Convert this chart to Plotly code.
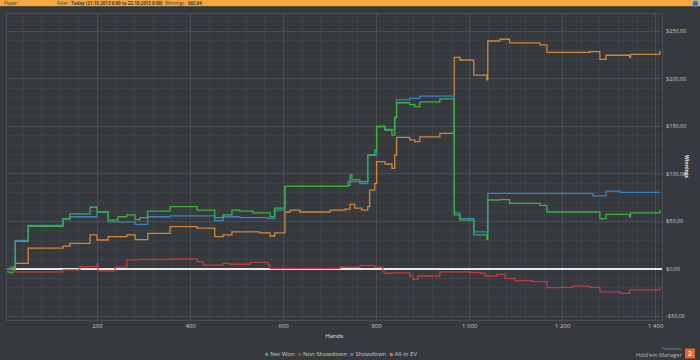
import plotly.graph_objects as go

# ---------------- data ----------------
net_won_x = [5, 12, 18, 23, 51, 126, 141, 184, 199, 223, 244, 263, 281, 291, 308, 356, 414, 452, 470, 489, 506, 534, 571, 581, 603, 738, 743, 747, 764, 781, 796, 800, 818, 833, 839, 843, 871, 882, 893, 936, 966, 967, 979, 1009, 1037, 1039, 1065, 1086, 1151, 1166, 1258, 1280, 1293, 1344, 1346, 1409]
net_won_y = [-3, -4, 2, 29, 45, 52.6, 58, 65, 60, 51.5, 55, 57, 52, 54, 61, 65.6, 62, 54, 57, 62, 61, 59, 55, 64, 87, 88, 99, 94, 92, 120, 125, 150, 146, 141, 159, 175, 173, 171, 176, 179, 178.6, 57, 51.5, 36, 31, 72.6, 73, 69, 67, 60, 60, 53, 57.5, 55, 59, 62]

non_sd_x = [5, 23, 51, 126, 162, 199, 201, 238, 263, 291, 356, 414, 427, 470, 485, 528, 566, 571, 635, 721, 764, 796, 813, 818, 833, 871, 878, 889, 936, 1000, 1022, 1033, 1058, 1076, 1097, 1136, 1166, 1194, 1222, 1258, 1280, 1323, 1344, 1366, 1409]
non_sd_y = [0, -3, -3, -1, 2.4, 5, -2, 2, 9.5, 10, 10.5, 7.7, 4, 6, 5, 7, 4, 0.7, 0.7, 1.8, 3.5, 1.8, -3, -4.5, -4, -7.4, -11, -7.4, -3, -3.5, -4.5, -7.4, -5.6, -9.8, -12.3, -13.3, -19.7, -19.3, -18, -19.3, -24, -25.6, -22, -22, -19.3]

sd_x = [5, 12, 23, 51, 126, 141, 199, 223, 281, 308, 356, 452, 470, 506, 566, 581, 603, 738, 764, 781, 800, 818, 839, 843, 871, 893, 966, 967, 979, 1009, 1037, 1039, 1265, 1293, 1323, 1409]
sd_y = [0, 2, 30, 46, 52.6, 55, 60, 49.5, 47, 55, 56, 51, 55, 54, 53, 62, 87, 92, 90, 120, 150, 147, 160, 178, 179.6, 182, 182, 59, 53, 39, 38, 79.6, 77, 82, 80.7, 80.7]

allin_x = [5, 23, 51, 126, 141, 184, 199, 223, 263, 281, 308, 356, 414, 452, 470, 489, 528, 549, 571, 581, 603, 614, 635, 700, 732, 743, 753, 768, 781, 785, 796, 800, 818, 833, 839, 843, 871, 882, 893, 936, 966, 967, 979, 1007, 1009, 1037, 1039, 1065, 1086, 1151, 1166, 1258, 1280, 1293, 1344, 1346, 1409]
allin_y = [0, 6, 22, 24, 27, 36, 30.5, 34, 36, 31, 37.5, 44.5, 43, 34, 36, 39, 39, 38, 34.7, 38, 60, 62, 60, 62, 63, 68, 64, 62, 65.6, 83, 90, 113, 110.5, 106, 120, 138.6, 135.8, 134, 139, 142.8, 142, 222.8, 220, 219, 204, 199, 240, 241.8, 238, 235.8, 228, 228.7, 220.7, 225, 222.8, 226, 229.5]

series_names = ["Net Won", "Non Showdown", "Showdown", "All-in EV"]
series_colors = ["#3cb043", "#bf3b3e", "#3b80c2", "#cf8638"]

y_tick_vals = [-50, 0, 50, 100, 150, 200, 250]
y_tick_text = ["-$50,00", "$0,00", "$50,00", "$100,00", "$150,00", "$200,00", "$250,00"]
x_tick_vals = [200, 400, 600, 800, 1000, 1200, 1400]
x_tick_text = ["200", "400", "600", "800", "1 000", "1 200", "1 400"]

# ---------------- figure ----------------
BG = "#363a3e"
GRID = "#4a4e53"
MINOR = "#3e4246"
TXT = "#c9cbcd"
FONT = "Open Sans"

fig = go.Figure()
data = [(net_won_x, net_won_y), (non_sd_x, non_sd_y), (sd_x, sd_y), (allin_x, allin_y)]
order = [1, 3, 2, 0]
for i in order:
    xs, ys = data[i]
    fig.add_trace(go.Scatter(x=xs, y=ys, mode="lines", line=dict(color=series_colors[i], width=1.3, shape="hv"),
                             name=series_names[i], showlegend=False, hoverinfo="skip"))

W, H = 700, 360
ML, MR, MT, MB = 7, 38, 14, 40
PW, PH = W - ML - MR, H - MT - MB

def px(x):
    return (x - ML) / PW

def py(y):
    return (H - MB - y) / PH

fig.update_layout(
    width=W, height=H,
    margin=dict(l=ML, r=MR, t=MT, b=MB),
    paper_bgcolor=BG, plot_bgcolor=BG,
    font=dict(family=FONT, size=6, color=TXT),
    showlegend=False,
    xaxis=dict(range=[5.5, 1413.5], tickvals=x_tick_vals, ticktext=x_tick_text,
               showgrid=True, gridcolor=GRID, gridwidth=1, zeroline=False,
               minor=dict(dtick=40, tick0=0, showgrid=True, gridcolor=MINOR, gridwidth=1),
               showline=True, linecolor=GRID, mirror=True,
               tickfont=dict(size=6, color=TXT), ticks="", ticklabelstandoff=0,
               title=dict(text="Hands", font=dict(size=6, color="#e6e6e6"), standoff=4)),
    yaxis=dict(range=[-53.7, 268.4], side="right", tickvals=y_tick_vals, ticktext=y_tick_text,
               showgrid=True, gridcolor=GRID, gridwidth=1,
               minor=dict(dtick=10, tick0=0, showgrid=True, gridcolor=MINOR, gridwidth=1),
               zeroline=True, zerolinecolor="#e8e8e8", zerolinewidth=1.8,
               showline=True, linecolor=GRID, mirror=True,
               tickfont=dict(size=5.5, color=TXT), ticks="", ticklabelstandoff=2),
)

# legend as text with coloured squares
legend_html = "&nbsp;&nbsp;".join(
    f"<span style='color:{c}'>■</span> {n}" for n, c in zip(series_names, series_colors))
fig.add_annotation(xref="paper", yref="paper", x=px(341), y=py(354), xanchor="center", yanchor="middle",
                   text=legend_html, showarrow=False, font=dict(size=6, color=TXT, family=FONT))

# top orange filter bar
fig.add_shape(type="rect", xref="paper", yref="paper", x0=px(0), x1=px(W), y0=py(6.5), y1=py(0),
              fillcolor="#f4a844", line=dict(width=0), layer="above")
fig.add_shape(type="rect", xref="paper", yref="paper", x0=px(0), x1=px(W), y0=py(7.5), y1=py(6.5),
              fillcolor="#2b2e31", line=dict(width=0), layer="above")
fig.add_annotation(xref="paper", yref="paper", x=px(2), y=py(3.3), xanchor="left", yanchor="middle",
                   text="Player:", showarrow=False, font=dict(size=4.5, color="#3a3a3a", family=FONT))
fig.add_annotation(xref="paper", yref="paper", x=px(55), y=py(3.3), xanchor="left", yanchor="middle",
                   text="Filter:  <b>Today (21.10.2013 0:00 to 22.10.2013 0:00)</b>  Winnings:  <b>$62,64</b>",
                   showarrow=False, font=dict(size=4.5, color="#3a3a3a", family=FONT))
fig.add_shape(type="circle", xref="paper", yref="paper", x0=px(692.5), x1=px(698.5), y0=py(6.3), y1=py(0.5),
              fillcolor="#2f6cb3", line=dict(width=0.5, color="#9cc0e8"), layer="above")

# y axis title
fig.add_annotation(xref="paper", yref="paper", x=px(692), y=py(167), text="<b>Winnings</b>", textangle=90,
                   showarrow=False, font=dict(size=5, color="#e6e6e6", family=FONT))

# powered by logo
fig.add_annotation(xref="paper", yref="paper", x=px(683), y=py(348.5), xanchor="right", yanchor="middle",
                   text="Powered by", showarrow=False, font=dict(size=3.5, color="#9a9c9e", family=FONT))
fig.add_annotation(xref="paper", yref="paper", x=px(683.5), y=py(354.5), xanchor="right", yanchor="middle",
                   text="Hold'em Manager", showarrow=False, font=dict(size=5.5, color="#b9bbbd", family=FONT))
fig.add_shape(type="rect", xref="paper", yref="paper", x0=px(685), x1=px(695), y0=py(358.5), y1=py(348.5),
              fillcolor="#e5672b", line=dict(width=0), layer="above")
fig.add_annotation(xref="paper", yref="paper", x=px(690), y=py(353.5), xanchor="center", yanchor="middle",
                   text="<b>2</b>", showarrow=False, font=dict(size=7, color="#ffffff", family=FONT))

fig.write_html("out.html", config={"displayModeBar": False},
               post_script="document.body.style.margin='0';document.body.style.overflow='hidden';")
